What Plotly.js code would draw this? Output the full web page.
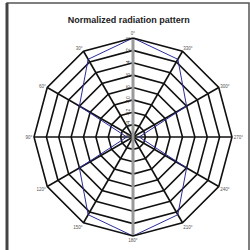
<!DOCTYPE html>
<html><head><meta charset="utf-8">
<script src="https://cdn.plot.ly/plotly-3.0.1.min.js"></script>
<style>html,body{margin:0;padding:0;background:#fff}#c{width:250px;height:250px}</style>
</head><body><div id="c"></div>
<script>
const angles = ["0°","30°","60°","90°","120°","150°","180°","210°","240°","270°","300°","330°"];
const gainDb = [0, -1.5, -6, -15, -6, -1.5, 0, -1.5, -6, -15, -6, -1.5];
const radialTicks = [0, -2, -4, -6, -8, -10, -12, -14, -16];
const radialMin = -16, radialMax = 0;

const thetaClosed = angles.concat([angles[0]]);
const rClosed = gainDb.concat([gainDb[0]]);

const data = [
  {
    type: 'scatterpolar', mode: 'lines',
    theta: thetaClosed, r: rClosed,
    line: {color: '#2b2b9c', width: 1}, hoverinfo: 'skip'
  },
  {
    type: 'scatterpolar', mode: 'lines',
    theta: [angles[6], angles[6]], r: [radialMin, radialMax],
    line: {color: '#999', width: 3}, hoverinfo: 'skip'
  }
];
// draw the gray spoke beneath the pattern line
data.reverse();

const layout = {
  width: 250, height: 250,
  margin: {l: 0, r: 0, t: 0, b: 0},
  paper_bgcolor: '#fff',
  showlegend: false,
  title: {text: 'Normalized radiation pattern', x: 0.515, xanchor: 'center', y: 0.92, yanchor: 'middle',
          font: {family: 'Liberation Sans, Arial', size: 9, color: '#222', weight: 'bold'}},
  polar: {
    domain: {x: [0.136, 0.928], y: [0.056, 0.848]},
    gridshape: 'linear',
    bgcolor: '#fff',
    angularaxis: {
      type: 'category',
      categoryorder: 'array',
      categoryarray: angles,
      direction: 'counterclockwise',
      rotation: 90,
      showline: true, linecolor: '#111', linewidth: 1.6,
      gridcolor: '#111', gridwidth: 1.6,
      ticks: '', ticklen: 0,
      tickfont: {size: 4.5, color: '#555', family: 'Liberation Sans, Arial'}
    },
    radialaxis: {
      range: [radialMin, radialMax],
      tickvals: radialTicks,
      ticktext: radialTicks.map(String),
      angle: 90,
      tickangle: 0,
      side: 'counterclockwise',
      showline: true, linecolor: '#999', linewidth: 3,
      gridcolor: '#111', gridwidth: 1.6,
      ticks: '',
      layer: 'below traces',
      tickfont: {size: 5, color: '#444', family: 'Liberation Sans, Arial'}
    }
  },
  shapes: [
    {type: 'rect', xref: 'paper', yref: 'paper', x0: 0.028, x1: 0.996, y0: -0.02, y1: 0.988,
     line: {color: '#555', width: 1.5}},
    {type: 'line', xref: 'paper', yref: 'paper', x0: 0.028, x1: 0.028, y0: -0.02, y1: 0.988,
     line: {color: '#444', width: 3}}
  ]
};

Plotly.newPlot('c', data, layout, {staticPlot: true, displayModeBar: false});
</script>
</body></html>
